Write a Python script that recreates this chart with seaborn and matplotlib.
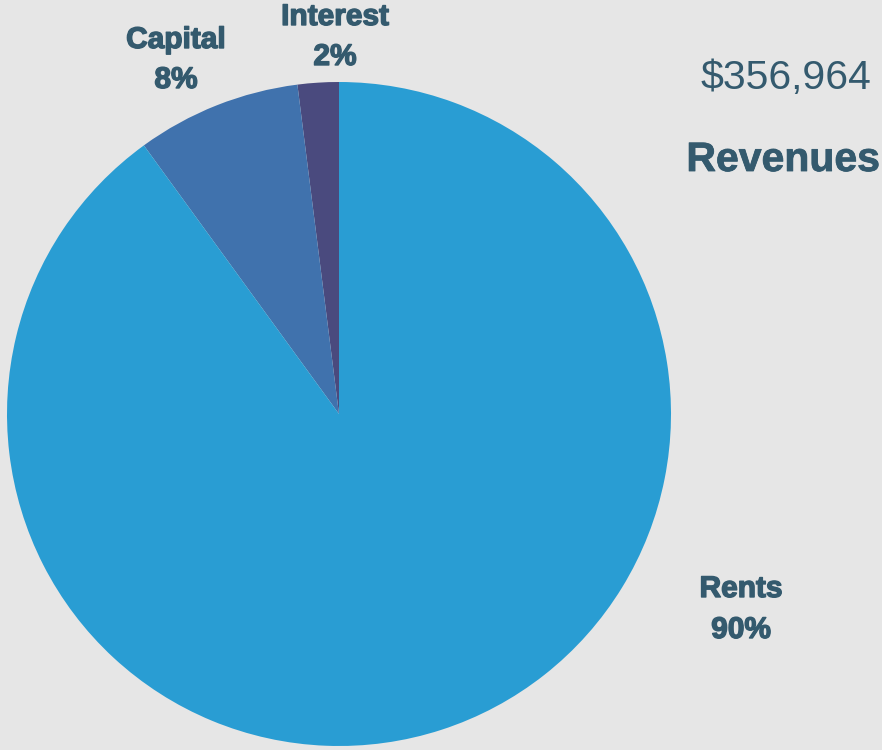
import matplotlib
matplotlib.use("Agg")
import matplotlib.pyplot as plt
import matplotlib.patheffects as pe
import seaborn as sns

# Data
categories = ["Interest", "Capital", "Rents"]
shares = [2, 8, 90]
colors = ["#4A4A7E", "#4072AD", "#299DD3"]
total_label = "$356,964"
title_label = "Revenues"

BG = "#E6E6E6"
TXT = "#345A6E"

sns.set_theme(style="white")
plt.rcParams["font.family"] = ["Liberation Sans", "DejaVu Sans"]

W, H = 882, 750
fig = plt.figure(figsize=(W / 100, H / 100), dpi=100, facecolor=BG)

cx, cy, r = 339, 414, 332
ax = fig.add_axes([(cx - r) / W, (H - cy - r) / H, 2 * r / W, 2 * r / H])
ax.set_facecolor(BG)
ax.pie(shares, colors=colors, startangle=90, counterclock=True, radius=1,
       wedgeprops=dict(linewidth=0))
ax.set_xlim(-1, 1)
ax.set_ylim(-1, 1)
ax.set_aspect("equal")
ax.axis("off")

def px(x, y):
    return x / W, 1 - y / H

heavy = [pe.withStroke(linewidth=1.0, foreground=TXT)]

label_pos = {"Interest": (335, 17, 57), "Capital": (176, 40, 80), "Rents": (741, 589, 630)}
for cat, val in zip(categories, shares):
    x, y1, y2 = label_pos[cat]
    fig.text(*px(x, y1), cat, ha="center", va="center", fontsize=21.5,
             fontweight="bold", color=TXT, path_effects=heavy)
    fig.text(*px(x, y2), f"{val}%", ha="center", va="center", fontsize=21.5,
             fontweight="bold", color=TXT, path_effects=heavy)

fig.text(*px(786, 78), total_label, ha="center", va="center", fontsize=29.5,
         color=TXT)
fig.text(*px(783, 160), title_label, ha="center", va="center", fontsize=29.5,
         fontweight="bold", color=TXT,
         path_effects=[pe.withStroke(linewidth=0.6, foreground=TXT)])

fig.savefig("out.png", dpi=100, facecolor=BG)
